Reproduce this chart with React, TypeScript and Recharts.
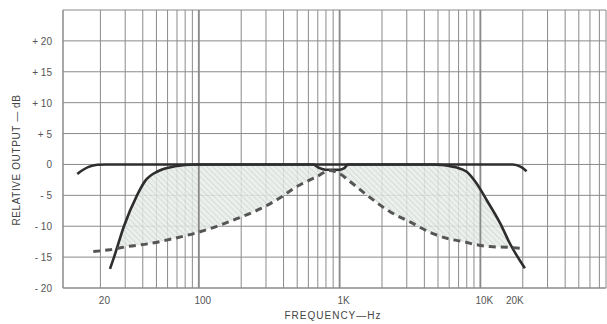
import { Area, CartesianGrid, ComposedChart, Label, Line, ReferenceLine, XAxis, YAxis } from "recharts"

// wide response (solid, flat)
const wideFreq = [13.7, 15, 16.5, 19, 22, 100, 1000, 10000, 17000, 19400, 21300]
const wideDb = [-1.55, -0.9, -0.4, -0.05, 0, 0, 0, 0, 0, -0.4, -1.1]

// narrow response (solid, steep skirts)
const narrowFreq = [23.4, 25, 29.4, 36.4, 41.5, 51.3, 67.8, 94, 200, 650, 720, 800, 1000, 1080, 1150, 4600, 6800, 8000, 9400, 11100, 13800, 16200, 20700]
const narrowDb = [-16.9, -15, -10, -5, -2.7, -1.1, -0.3, 0, 0, 0, -0.6, -0.85, -0.85, -0.6, 0, 0, -0.5, -1.2, -3.1, -5.8, -9.5, -12.8, -16.8]

// lower limit (dashed)
const dashFreq = [17.8, 23.4, 30.9, 45, 66, 102, 176, 272, 378, 470, 687, 850, 1000, 1190, 1560, 2280, 3160, 4600, 6100, 7600, 9400, 11700, 15400, 20000]
const dashDb = [-14.1, -13.8, -13.3, -12.8, -12, -10.9, -9, -7.2, -5.4, -3.9, -2.0, -1.0, -1.5, -2.8, -4.95, -7.65, -9.3, -11.2, -12.1, -12.5, -13.0, -13.3, -13.4, -13.6]

// shaded band between the dashed limit and the narrow response
const shadeFreq = [26.3, 29.4, 36.4, 41.5, 51.3, 67.8, 94, 176, 272, 378, 470, 687, 850, 1000, 1190, 1560, 2280, 3160, 4600, 6800, 8000, 9400, 11100, 13800, 16700]
const shadeLow = [-13.6, -13.3, -13.1, -12.9, -12.6, -12, -11.1, -9, -7.2, -5.4, -3.9, -2.0, -1.0, -1.5, -2.8, -4.95, -7.65, -9.3, -11.2, -12.3, -12.6, -13.0, -13.3, -13.4, -13.45]
const shadeHigh = [-13.6, -10, -5, -2.7, -1.1, -0.3, 0, 0, 0, 0, 0, 0, -0.85, -0.85, 0, 0, 0, 0, 0, -0.5, -1.2, -3.1, -5.8, -9.5, -13.45]

const xTicks = [
    20, 30, 40, 50, 60, 70, 80, 90,
    100, 200, 300, 400, 500, 600, 700, 800, 900,
    1000, 2000, 3000, 4000, 5000, 6000, 7000, 8000, 9000,
    10000, 20000, 30000, 40000, 50000, 60000, 70000,
]
const xLabels: Record<number, string> = { 20: "20", 100: "100", 1000: "1K", 10000: "10K", 20000: "20K" }
const yTicks = [-20, -15, -10, -5, 0, 5, 10, 15, 20, 25]

const wideData = wideFreq.map((f, i) => ({ f, db: wideDb[i] }))
const narrowData = narrowFreq.map((f, i) => ({ f, db: narrowDb[i] }))
const dashData = dashFreq.map((f, i) => ({ f, db: dashDb[i] }))
const shadeData = shadeFreq.map((f, i) => ({ f, range: [shadeLow[i], shadeHigh[i]] }))

const font = "'Liberation Sans', Arial, sans-serif"
const grey = "#8a8a8a"

function XTick(props: any) {
    const { x, payload } = props
    const text = xLabels[payload.value]
    if (!text) return null
    const dx = payload.value === 20000 ? -8 : 4
    return (
        <text x={x + dx} y={304} textAnchor="middle" fontSize={10} fill="#555" fontFamily={font}>
            {text}
        </text>
    )
}

function YTick(props: any) {
    const { y, payload } = props
    const v = payload.value
    if (v === 25) return null
    const text = v > 0 ? `+ ${v}` : v < 0 ? `- ${Math.abs(v)}` : "0"
    return (
        <text x={52} y={y + 4} textAnchor="end" fontSize={10} fill="#555" fontFamily={font}>
            {text}
        </text>
    )
}

export default function App() {
    return (
        <div style={{ position: "absolute", left: 0, top: 0, background: "#fff" }}>
            <ComposedChart width={607} height={324} margin={{ top: 10, right: 1, bottom: 0, left: 0 }}>
                <defs>
                    <pattern id="hatch" patternUnits="userSpaceOnUse" width="4" height="4" patternTransform="rotate(-45)">
                        <rect width="4" height="4" fill="#e7ede9" />
                        <line x1="0" y1="0" x2="0" y2="4" stroke="#c2c7c3" strokeWidth="1.2" />
                    </pattern>
                </defs>
                <CartesianGrid stroke={grey} strokeWidth={1} />
                <XAxis
                    dataKey="f"
                    type="number"
                    scale="log"
                    domain={[10.85, 78000]}
                    allowDataOverflow
                    ticks={xTicks}
                    interval={0}
                    tick={<XTick />}
                    tickLine={false}
                    axisLine={{ stroke: grey }}
                    height={36}
                >
                    <Label
                        content={() => (
                            <text x={333} y={319} textAnchor="middle" fontSize={10} letterSpacing={1} fill="#444" fontFamily={font}>
                                FREQUENCY—Hz
                            </text>
                        )}
                    />
                </XAxis>
                <YAxis
                    type="number"
                    domain={[-20, 25]}
                    ticks={yTicks}
                    interval={0}
                    tick={<YTick />}
                    tickLine={false}
                    axisLine={{ stroke: grey }}
                    width={63}
                >
                    <Label
                        content={() => (
                            <text
                                x={20}
                                y={160}
                                transform="rotate(-90 20 160)"
                                textAnchor="middle"
                                fontSize={10}
                                letterSpacing={0.6}
                                fill="#444"
                                fontFamily={font}
                            >
                                RELATIVE OUTPUT — dB
                            </text>
                        )}
                    />
                </YAxis>
                <ReferenceLine x={100} stroke={grey} strokeWidth={1.8} />
                <ReferenceLine x={1000} stroke={grey} strokeWidth={1.8} />
                <ReferenceLine x={10000} stroke={grey} strokeWidth={1.8} />
                <Area
                    data={shadeData}
                    dataKey="range"
                    type="monotone"
                    stroke="none"
                    fill="url(#hatch)"
                    fillOpacity={0.85}
                    isAnimationActive={false}
                />
                <Line data={wideData} dataKey="db" type="monotone" stroke="#2e2e2e" strokeWidth={2.6} dot={false} isAnimationActive={false} />
                <Line data={narrowData} dataKey="db" type="monotone" stroke="#2e2e2e" strokeWidth={2.6} dot={false} isAnimationActive={false} />
                <Line
                    data={dashData}
                    dataKey="db"
                    type="monotone"
                    stroke="#555"
                    strokeWidth={3}
                    strokeDasharray="7 5"
                    dot={false}
                    isAnimationActive={false}
                />
            </ComposedChart>
        </div>
    )
}
